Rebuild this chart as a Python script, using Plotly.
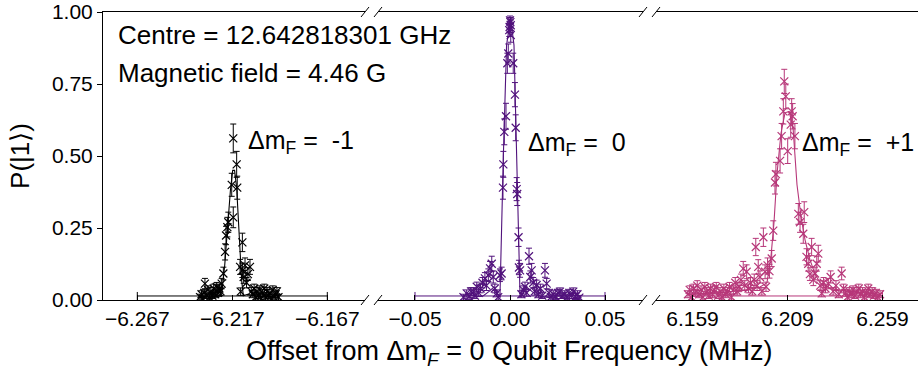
import plotly.graph_objects as go

# ---------------- data ----------------
# Panel 1 : Delta m_F = -1
x_m1 = [-6.2340, -6.2332, -6.2325, -6.2318, -6.2314, -6.2305, -6.2298, -6.2290, -6.2283, -6.2275,
        -6.2268, -6.2260, -6.2252, -6.2245, -6.2238, -6.2232, -6.2226, -6.2217, -6.2208, -6.2203,
        -6.2196, -6.2191, -6.2173, -6.2165, -6.2165, -6.2147, -6.2144, -6.2129, -6.2126, -6.2117,
        -6.2117, -6.2110, -6.2103, -6.2095, -6.2088, -6.2077, -6.2070, -6.2062, -6.2055, -6.2047,
        -6.2040, -6.2032, -6.2025, -6.2017, -6.2010, -6.2002, -6.1995, -6.1987, -6.1980, -6.1972,
        -6.1965, -6.1957, -6.1950, -6.1942, -6.1935, -6.1927]
p_m1 = [0.010, 0.020, 0.005, 0.025, 0.057, 0.015, 0.035, 0.010, 0.030, 0.015,
        0.040, 0.020, 0.045, 0.025, 0.040, 0.030, 0.057, 0.092, 0.167, 0.224,
        0.253, 0.270, 0.400, 0.561, 0.287, 0.471, 0.390, 0.115, 0.029, 0.200,
        0.103, 0.080, 0.120, 0.060, 0.090, 0.115, 0.030, 0.020, 0.040, 0.010,
        0.030, 0.015, 0.035, 0.005, 0.025, 0.040, 0.010, 0.030, 0.015, 0.025,
        0.005, 0.035, 0.010, 0.020, 0.030, 0.010]
e_m1 = [0.010, 0.012, 0.008, 0.012, 0.018, 0.010, 0.014, 0.010, 0.013, 0.010,
        0.015, 0.012, 0.016, 0.012, 0.015, 0.014, 0.018, 0.022, 0.028, 0.032,
        0.034, 0.035, 0.040, 0.050, 0.036, 0.045, 0.040, 0.026, 0.013, 0.032,
        0.025, 0.022, 0.026, 0.018, 0.022, 0.026, 0.013, 0.012, 0.015, 0.010,
        0.013, 0.010, 0.014, 0.008, 0.012, 0.015, 0.010, 0.013, 0.010, 0.012,
        0.008, 0.014, 0.010, 0.012, 0.013, 0.010]
fit_x_m1 = [-6.2340, -6.2280, -6.2235, -6.2226, -6.2210, -6.2195, -6.2180, -6.2168, -6.2158,
            -6.2147, -6.2135, -6.2121, -6.2112, -6.2090, -6.2030, -6.1927]
fit_p_m1 = [0.010, 0.010, 0.015, 0.020, 0.120, 0.260, 0.380, 0.450, 0.450,
            0.390, 0.220, 0.070, 0.015, 0.020, 0.010, 0.010]

# Panel 2 : Delta m_F = 0
x_0 = [-0.0245, -0.0228, -0.0215, -0.0205, -0.0193, -0.0185, -0.0175, -0.0165, -0.0155, -0.0145,
       -0.0132, -0.0124, -0.0114, -0.0105, -0.0096, -0.0088, -0.0080, -0.0070, -0.0062, -0.0053,
       -0.0044, -0.0037, -0.0035, -0.0030, -0.0021, -0.0014, -0.0009, -0.0004, -0.0002, 0.0000,
       0.0002, 0.0004, 0.0004, 0.0017, 0.0026, 0.0030, 0.0035, 0.0038, 0.0045, 0.0047,
       0.0053, 0.0060, 0.0070, 0.0079, 0.0088, 0.0100, 0.0107, 0.0114, 0.0122, 0.0130,
       0.0140, 0.0150, 0.0160, 0.0170, 0.0184, 0.0193, 0.0205, 0.0215, 0.0228, 0.0240,
       0.0252, 0.0263, 0.0275, 0.0288, 0.0300, 0.0312, 0.0323, 0.0333, 0.0345, 0.0355, 0.0365]
p_0 = [0.010, 0.023, 0.012, 0.030, 0.029, 0.015, 0.046, 0.025, 0.040, 0.060,
       0.075, 0.050, 0.086, 0.110, 0.126, 0.080, 0.040, 0.023, 0.010, 0.086,
       0.092, 0.390, 0.471, 0.584, 0.638, 0.822, 0.856, 0.937, 0.948, 0.971,
       0.965, 0.954, 0.920, 0.822, 0.713, 0.598, 0.385, 0.368, 0.218, 0.113,
       0.103, 0.020, 0.035, 0.046, 0.025, 0.152, 0.080, 0.103, 0.060, 0.030,
       0.052, 0.020, 0.040, 0.015, 0.103, 0.057, 0.025, 0.010, 0.020, 0.012,
       0.025, 0.029, 0.015, 0.020, 0.010, 0.025, 0.015, 0.029, 0.012, 0.020, 0.008]
e_0 = [0.010, 0.012, 0.010, 0.013, 0.013, 0.010, 0.016, 0.012, 0.015, 0.018,
       0.020, 0.017, 0.022, 0.024, 0.026, 0.021, 0.015, 0.012, 0.010, 0.022,
       0.022, 0.040, 0.045, 0.045, 0.045, 0.035, 0.033, 0.022, 0.020, 0.015,
       0.016, 0.018, 0.025, 0.035, 0.042, 0.045, 0.040, 0.040, 0.032, 0.025,
       0.024, 0.012, 0.014, 0.016, 0.012, 0.028, 0.021, 0.024, 0.018, 0.013,
       0.017, 0.012, 0.015, 0.010, 0.024, 0.018, 0.012, 0.010, 0.012, 0.010,
       0.012, 0.013, 0.010, 0.012, 0.010, 0.012, 0.010, 0.013, 0.010, 0.012, 0.008]
fit_x_0 = [-0.0245, -0.0180, -0.0140, -0.0110, -0.0085, -0.0065, -0.0053, -0.0035, -0.0018,
           0.0003, 0.0021, 0.0035, 0.0053, 0.0068, 0.0088, 0.0115, 0.0145, 0.0190, 0.0245, 0.0365]
fit_p_0 = [0.005, 0.010, 0.015, 0.030, 0.045, 0.020, 0.010, 0.500, 0.885,
           0.980, 0.885, 0.500, 0.010, 0.020, 0.045, 0.030, 0.015, 0.010, 0.005, 0.005]

# Panel 3 : Delta m_F = +1
x_p1 = [6.1566, 6.1575, 6.1585, 6.1595, 6.1605, 6.1615, 6.1625, 6.1635, 6.1645, 6.1655,
        6.1665, 6.1675, 6.1685, 6.1695, 6.1705, 6.1715, 6.1725, 6.1735, 6.1745, 6.1755,
        6.1765, 6.1775, 6.1785, 6.1795, 6.1805, 6.1815, 6.1825, 6.1835, 6.1845, 6.1857,
        6.1865, 6.1875, 6.1885, 6.1895, 6.1905, 6.1915, 6.1923, 6.1930, 6.1936, 6.1945,
        6.1955, 6.1963, 6.1972, 6.1977, 6.1985, 6.1995, 6.2007, 6.2015, 6.2024, 6.2029,
        6.2051, 6.2059, 6.2068, 6.2073, 6.2081, 6.2091, 6.2107, 6.2112, 6.2117, 6.2129,
        6.2147, 6.2156, 6.2173, 6.2178, 6.2190, 6.2199, 6.2208, 6.2217, 6.2226, 6.2235,
        6.2244, 6.2252, 6.2262, 6.2270, 6.2280, 6.2290, 6.2305, 6.2317, 6.2330, 6.2345,
        6.2360, 6.2375, 6.2385, 6.2395, 6.2405, 6.2415, 6.2425, 6.2435, 6.2445, 6.2455,
        6.2465, 6.2475, 6.2485, 6.2495, 6.2505, 6.2515, 6.2525, 6.2535, 6.2545, 6.2555,
        6.2565, 6.2577]
p_p1 = [0.020, 0.035, 0.010, 0.040, 0.025, 0.050, 0.020, 0.035, 0.010, 0.045,
        0.030, 0.015, 0.040, 0.020, 0.035, 0.045, 0.015, 0.030, 0.010, 0.040,
        0.020, 0.030, 0.045, 0.010, 0.035, 0.060, 0.030, 0.045, 0.070, 0.109,
        0.050, 0.098, 0.040, 0.060, 0.030, 0.070, 0.184, 0.050, 0.115, 0.080,
        0.030, 0.218, 0.098, 0.046, 0.120, 0.100, 0.144, 0.241, 0.408, 0.437,
        0.483, 0.569, 0.655, 0.759, 0.707, 0.517, 0.609, 0.655, 0.638, 0.569,
        0.299, 0.270, 0.230, 0.305, 0.150, 0.126, 0.090, 0.184, 0.070, 0.092,
        0.126, 0.161, 0.050, 0.023, 0.060, 0.040, 0.057, 0.080, 0.030, 0.050,
        0.020, 0.092, 0.040, 0.025, 0.010, 0.030, 0.020, 0.035, 0.015, 0.030,
        0.040, 0.020, 0.030, 0.010, 0.025, 0.040, 0.020, 0.030, 0.015, 0.025,
        0.010, 0.020]
e_p1 = [0.012, 0.014, 0.010, 0.015, 0.012, 0.017, 0.012, 0.014, 0.010, 0.016,
        0.013, 0.010, 0.015, 0.012, 0.014, 0.016, 0.010, 0.013, 0.010, 0.015,
        0.012, 0.013, 0.016, 0.010, 0.014, 0.018, 0.013, 0.016, 0.020, 0.025,
        0.017, 0.024, 0.015, 0.018, 0.013, 0.020, 0.030, 0.017, 0.025, 0.021,
        0.013, 0.032, 0.024, 0.016, 0.026, 0.024, 0.028, 0.034, 0.040, 0.041,
        0.042, 0.044, 0.044, 0.042, 0.043, 0.043, 0.044, 0.044, 0.044, 0.044,
        0.036, 0.035, 0.033, 0.036, 0.028, 0.026, 0.022, 0.030, 0.020, 0.022,
        0.026, 0.029, 0.017, 0.012, 0.018, 0.015, 0.018, 0.021, 0.013, 0.017,
        0.012, 0.022, 0.015, 0.012, 0.010, 0.013, 0.012, 0.014, 0.010, 0.013,
        0.015, 0.012, 0.013, 0.010, 0.012, 0.015, 0.012, 0.013, 0.010, 0.012,
        0.010, 0.012]
fit_x_p1 = [6.1566, 6.1735, 6.1866, 6.1945, 6.1982, 6.2003, 6.2019, 6.2035, 6.2056, 6.2077,
            6.2098, 6.2119, 6.2140, 6.2161, 6.2182, 6.2208, 6.2235, 6.2261, 6.2314, 6.2419, 6.2577]
fit_p_p1 = [0.020, 0.025, 0.035, 0.045, 0.060, 0.150, 0.270, 0.440, 0.580, 0.650,
            0.655, 0.600, 0.400, 0.290, 0.210, 0.140, 0.090, 0.060, 0.040, 0.030, 0.020]

centres = [-6.217, 0.0, 6.209]
span_halfwidth = 0.05
span_level = 0.014

tick_vals = [[-6.267, -6.217, -6.167], [-0.05, 0.00, 0.05], [6.159, 6.209, 6.259]]
tick_text = [["\u22126.267", "\u22126.217", "\u22126.167"],
             ["\u22120.05", "0.00", "0.05"],
             ["6.159", "6.209", "6.259"]]
y_ticks = [0, 0.25, 0.5, 0.75, 1.0]
y_tick_text = ["0.00", "0.25", "0.50", "0.75", "1.00"]

colours = ["#000000", "#51127c", "#b73779"]
labels = ["\u0394m<sub>F</sub> =\u00a0 -1", "\u0394m<sub>F</sub> =\u00a0 0", "\u0394m<sub>F</sub> =\u00a0 +1"]

# ---------------- layout geometry ----------------
W, H = 918, 372
ML, MR, MT, MB = 103, 0, 10, 72
PW = W - ML - MR
panels_px = [(0, 262), (275, 540), (553, 815)]
ranges = [[-6.28505, -6.14716], [-0.06947, 0.07], [6.13979, 6.27768]]

FONT = "Liberation Sans, Arial, Helvetica, sans-serif"

fig = go.Figure()

series = [(x_m1, p_m1, e_m1, fit_x_m1, fit_p_m1),
          (x_0, p_0, e_0, fit_x_0, fit_p_0),
          (x_p1, p_p1, e_p1, fit_x_p1, fit_p_p1)]

for i, (xs, ps, es, fx, fp) in enumerate(series):
    xa = "x" if i == 0 else f"x{i+1}"
    c = colours[i]
    # horizontal span bar near zero
    fig.add_trace(go.Scatter(
        x=[centres[i]], y=[span_level], xaxis=xa, yaxis="y", mode="markers",
        marker=dict(size=1, color=c, opacity=0),
        error_x=dict(type="data", array=[span_halfwidth], color=c, thickness=1, width=4),
        showlegend=False, hoverinfo="skip"))
    # fit line
    fig.add_trace(go.Scatter(
        x=fx, y=fp, xaxis=xa, yaxis="y", mode="lines",
        line=dict(color=c, width=1.1), showlegend=False))
    # data with error bars
    fig.add_trace(go.Scatter(
        x=xs, y=ps, xaxis=xa, yaxis="y", mode="markers",
        marker=dict(symbol="x-thin", size=8, color=c, line=dict(color=c, width=1.2)),
        error_y=dict(type="data", array=es, color=c, thickness=1, width=3),
        showlegend=False))

layout = dict(
    width=W, height=H,
    margin=dict(l=ML, r=MR, t=MT, b=MB, pad=0),
    paper_bgcolor="white", plot_bgcolor="white",
    font=dict(family=FONT, color="black"),
    yaxis=dict(range=[0, 1], tickvals=y_ticks, ticktext=y_tick_text,
               ticks="outside", ticklen=5, tickwidth=1, tickcolor="black",
               ticklabeloverflow="allow",
               showline=True, linecolor="black", linewidth=1, showgrid=False,
               zeroline=False, tickfont=dict(size=21, family=FONT),
               title=dict(text="P(|1\u27e9)", font=dict(size=26, family=FONT), standoff=14),
               anchor="x"),
)
for i in range(3):
    key = "xaxis" if i == 0 else f"xaxis{i+1}"
    a, b = panels_px[i]
    layout[key] = dict(
        domain=[a / PW, b / PW], range=ranges[i], anchor="y",
        tickvals=tick_vals[i], ticktext=tick_text[i],
        ticks="inside", ticklen=5, tickwidth=1, tickcolor="black",
        ticklabeloverflow="allow",
        showline=True, mirror=True, linecolor="black", linewidth=1,
        showgrid=False, zeroline=False, tickfont=dict(size=21, family=FONT))
fig.update_layout(**layout)

# break marks "//"
shapes = []
for px in [262, 275, 540, 553]:
    for yv in [0, 1]:
        shapes.append(dict(type="line", xref="paper", yref="paper",
                           xsizemode="pixel", ysizemode="pixel",
                           xanchor=px / PW, yanchor=yv,
                           x0=-4, x1=4, y0=-5, y1=5,
                           line=dict(color="black", width=1)))
fig.update_layout(shapes=shapes)

# annotations
ann = [
    dict(text="Centre = 12.642818301 GHz", x=(116 - ML) / PW, y=1 - (33 - MT) / 290,
         xref="paper", yref="paper", xanchor="left", yanchor="middle",
         showarrow=False, font=dict(size=26, family=FONT)),
    dict(text="Magnetic field = 4.46 G", x=(116 - ML) / PW, y=1 - (71 - MT) / 290,
         xref="paper", yref="paper", xanchor="left", yanchor="middle",
         showarrow=False, font=dict(size=26, family=FONT)),
    dict(text="Offset from \u0394m<sub><i>F</i></sub> = 0 Qubit Frequency (MHz)",
         x=(509 - ML) / PW, y=-(353 - 300) / 290, xref="paper", yref="paper",
         xanchor="center", yanchor="middle", showarrow=False,
         font=dict(size=27, family=FONT)),
]
lab_x = [-6.2100, 0.0085, 6.2155]
lab_y = [0.550, 0.540, 0.540]
for i in range(3):
    xr = "x" if i == 0 else f"x{i+1}"
    ann.append(dict(text=labels[i], x=lab_x[i], y=lab_y[i], xref=xr, yref="y",
                    xanchor="left", yanchor="middle", showarrow=False,
                    font=dict(size=25, family=FONT)))
fig.update_layout(annotations=ann)

fig.write_html("out.html")
